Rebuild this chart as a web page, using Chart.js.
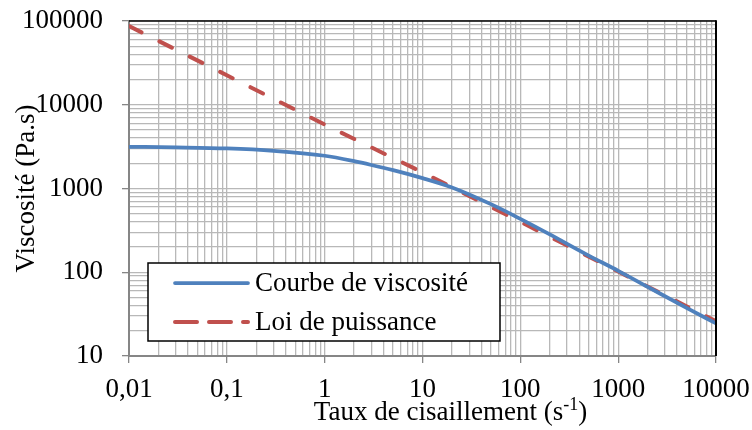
<!DOCTYPE html>
<html>
<head>
<meta charset="utf-8">
<script src="https://cdn.jsdelivr.net/npm/chart.js@4.4.1/dist/chart.umd.min.js"></script>
<style>
body { margin: 0; background: #fff; }
#chart { display: block; }
</style>
</head>
<body>
<canvas id="chart" width="752" height="430"></canvas>
<script>
// courbe de viscosite mesuree (taux de cisaillement s-1 / viscosite Pa.s)
var shearRates = [0.01, 0.03, 0.1, 0.3, 1, 2, 3, 5, 10, 20, 50, 100, 200, 500, 1000, 2000, 5000, 10000];
var viscosity = [3150, 3100, 3010, 2820, 2460, 2120, 1910, 1655, 1330, 1030, 650, 434, 283, 158, 104, 67, 37.5, 24.5];

// loi de puissance
var powerRates = [0.01, 0.1, 1, 10, 100, 1000, 10000];
var powerLaw = [87000, 22500, 5800, 1560, 400, 102, 26];

var seriesNames = ['Courbe de viscosité', 'Loi de puissance'];

var xDecades = [0.01, 0.1, 1, 10, 100, 1000, 10000];
var xTickLabels = ['0,01', '0,1', '1', '10', '100', '1000', '10000'];
var yDecades = [10, 100, 1000, 10000, 100000];
var yTickLabels = ['10', '100', '1000', '10000', '100000'];

var FONT = '"Liberation Serif", "Times New Roman", serif';
var FSIZE = 27;

function toPoints(xs, ys) {
    return xs.map(function(x, i) { return {x: x, y: ys[i]}; });
}

// 1..9 x 10^n for each decade
function logTicks(decades) {
    var ticks = [];
    for (var i = 0; i < decades.length; i++) {
        var d = decades[i];
        if (i === decades.length - 1) {
            ticks.push({value: d, major: true});
            break;
        }
        for (var k = 1; k < 10; k++) {
            ticks.push({value: parseFloat((d * k).toPrecision(6)), major: k === 1});
        }
    }
    return ticks;
}

function decadeLabel(decades, labels) {
    return function(value) {
        for (var i = 0; i < decades.length; i++) {
            if (Math.abs(value / decades[i] - 1) < 1e-6) return labels[i];
        }
        return '';
    };
}

function noOverhang(scale) {
    scale.paddingTop = 0;
    scale.paddingBottom = 0;
    scale.paddingLeft = 0;
    scale.paddingRight = 0;
}

var frameAndText = {
    id: 'frameAndText',
    afterDraw: function(chart) {
        var ctx = chart.ctx;
        var a = chart.chartArea;
        ctx.save();

        // top / right frame
        ctx.strokeStyle = '#000';
        ctx.lineWidth = 1.5;
        ctx.beginPath();
        ctx.moveTo(a.left, a.top);
        ctx.lineTo(a.right, a.top);
        ctx.stroke();
        ctx.lineWidth = 2;
        ctx.beginPath();
        ctx.moveTo(a.right, a.top - 0.75);
        ctx.lineTo(a.right, a.bottom);
        ctx.stroke();

        // axis titles
        ctx.fillStyle = '#000';
        ctx.textBaseline = 'alphabetic';
        var main = 'Taux de cisaillement (s';
        var sup = '-1';
        var close = ')';
        ctx.font = FSIZE + 'px ' + FONT;
        var w1 = ctx.measureText(main).width;
        var w3 = ctx.measureText(close).width;
        ctx.font = Math.round(FSIZE * 0.65) + 'px ' + FONT;
        var w2 = ctx.measureText(sup).width;
        var total = w1 + w2 + w3;
        var cx = (a.left + a.right) / 2 + 28;
        var x0 = cx - total / 2;
        var by = 420;
        ctx.textAlign = 'left';
        ctx.font = FSIZE + 'px ' + FONT;
        ctx.fillText(main, x0, by);
        ctx.font = Math.round(FSIZE * 0.65) + 'px ' + FONT;
        ctx.fillText(sup, x0 + w1, by - 10);
        ctx.font = FSIZE + 'px ' + FONT;
        ctx.fillText(close, x0 + w1 + w2, by);

        ctx.save();
        ctx.translate(34, (a.top + a.bottom) / 2);
        ctx.rotate(-Math.PI / 2);
        ctx.textAlign = 'center';
        ctx.fillText('Viscosité (Pa.s)', 0, 0);
        ctx.restore();

        // legend box
        var lx = a.left + 19, ly = a.bottom - 93, lw = 352, lh = 78;
        ctx.fillStyle = '#fff';
        ctx.fillRect(lx, ly, lw, lh);
        ctx.strokeStyle = '#000';
        ctx.lineWidth = 1.5;
        ctx.strokeRect(lx, ly, lw, lh);
        var ds = chart.data.datasets;
        for (var i = 0; i < ds.length; i++) {
            var yy = ly + 20 + i * 39;
            ctx.strokeStyle = ds[i].borderColor;
            ctx.lineWidth = ds[i].borderWidth;
            ctx.lineCap = 'round';
            ctx.setLineDash(ds[i].borderDash && ds[i].borderDash.length ? [22, 12] : []);
            ctx.beginPath();
            ctx.moveTo(lx + 27, yy);
            ctx.lineTo(lx + 100, yy);
            ctx.stroke();
            ctx.setLineDash([]);
            ctx.fillStyle = '#000';
            ctx.font = FSIZE + 'px ' + FONT;
            ctx.textAlign = 'left';
            ctx.textBaseline = 'middle';
            ctx.fillText(ds[i].label, lx + 107, yy + 1);
        }
        ctx.restore();
    }
};

var ctx1 = document.getElementById('chart').getContext('2d');
var viscoChart = new Chart(ctx1, {
    type: 'line',
    data: {
        datasets: [{
            label: seriesNames[0],
            data: toPoints(shearRates, viscosity),
            borderColor: '#4F81BD',
            borderWidth: 3.75,
            pointRadius: 0,
            cubicInterpolationMode: 'monotone',
            fill: false
        }, {
            label: seriesNames[1],
            data: toPoints(powerRates, powerLaw),
            borderColor: '#C0504D',
            borderWidth: 4,
            borderDash: [14, 20],
            borderCapStyle: 'round',
            pointRadius: 0,
            fill: false
        }]
    },
    options: {
        responsive: false,
        animation: false,
        layout: {
            padding: {top: 21, right: 36, bottom: 0, left: 0}
        },
        plugins: {
            legend: {display: false},
            tooltip: {enabled: false}
        },
        scales: {
            x: {
                type: 'logarithmic',
                min: 0.01,
                max: 10000,
                afterBuildTicks: function(scale) { scale.ticks = logTicks(xDecades); },
                afterFit: function(scale) { scale.height = 74; noOverhang(scale); },
                grid: {
                    color: '#b8b8b8',
                    lineWidth: 1.3,
                    tickLength: 7,
                    tickColor: function(c) { return c.tick && c.tick.major ? '#868686' : 'rgba(0,0,0,0)'; }
                },
                border: {color: '#868686', width: 2},
                ticks: {
                    autoSkip: false,
                    maxRotation: 0,
                    padding: 11,
                    color: '#000',
                    font: {family: FONT, size: FSIZE},
                    callback: decadeLabel(xDecades, xTickLabels)
                }
            },
            y: {
                type: 'logarithmic',
                min: 10,
                max: 100000,
                afterBuildTicks: function(scale) { scale.ticks = logTicks(yDecades); },
                afterFit: function(scale) { scale.width = 129; noOverhang(scale); },
                grid: {
                    color: '#b8b8b8',
                    lineWidth: 1.3,
                    tickLength: 7,
                    tickColor: function(c) { return c.tick && c.tick.major ? '#868686' : 'rgba(0,0,0,0)'; }
                },
                border: {color: '#868686', width: 2},
                ticks: {
                    autoSkip: false,
                    padding: 19,
                    color: '#000',
                    font: {family: FONT, size: FSIZE},
                    callback: decadeLabel(yDecades, yTickLabels)
                }
            }
        }
    },
    plugins: [frameAndText]
});
</script>
</body>
</html>
